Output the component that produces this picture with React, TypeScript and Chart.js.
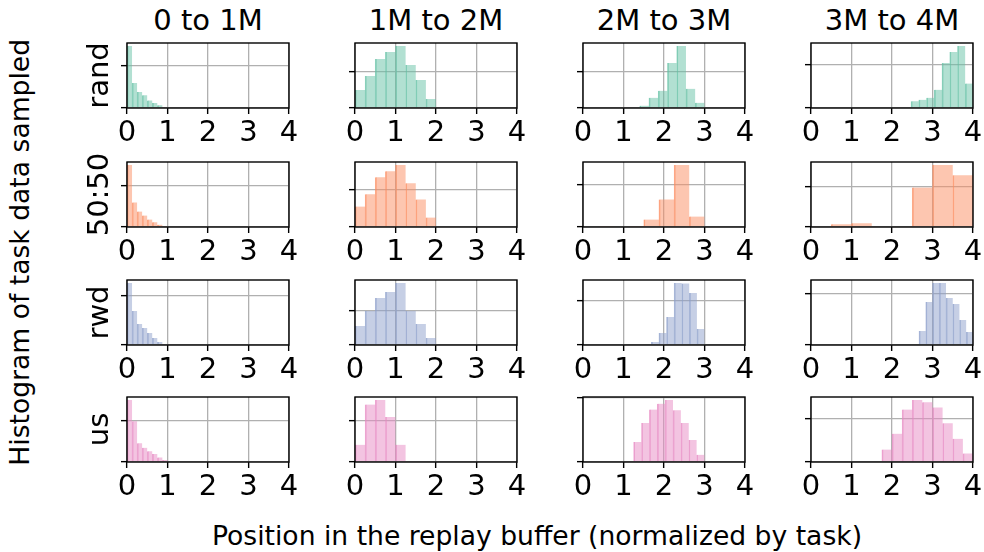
import React, { useEffect, useRef } from 'react';
import { Chart, registerables } from 'chart.js';

Chart.register(...registerables);

const FONT = 'DejaVu Sans';
Chart.defaults.font.family = FONT;

const COLUMN_TITLES = ['0 to 1M', '1M to 2M', '2M to 3M', '3M to 4M'];
const ROW_LABELS = ['rand', '50:50', 'rwd', 'us'];
const ROW_COLORS = ['102,194,165', '252,141,98', '141,160,203', '231,138,195'];
const X_TICKS = [0, 1, 2, 3, 4];
const Y_GRID_TICKS = [0, 1];
const X_LABEL = 'Position in the replay buffer (normalized by task)';
const Y_LABEL = 'Histogram of task data sampled';

// Bin layout per column: left edge of first bin and bin width
const RAND_BIN_START = [0, 0, 1.171, 2.47];
const RAND_BIN_WIDTH = [0.125, 0.25, 0.2286, 0.19125];
const MIX_BIN_START = [0, 0, 0, 0];
const MIX_BIN_WIDTH = [0.125, 0.25, 0.375, 0.5];
const RWD_BIN_START = [0, 0, 1.5, 2.6667];
const RWD_BIN_WIDTH = [0.125, 0.25, 0.1875, 0.16667];
const US_BIN_START = [0, 0, 1.25, 1.75];
const US_BIN_WIDTH = [0.125, 0.25, 0.19444, 0.25];

// Histogram heights (in units of the panel's grid line)
const RAND_HEIGHTS = [
  [1.468, 0.595, 0.381, 0.3, 0.18, 0.12, 0.063, 0.016],
  [0.495, 0.881, 1.349, 1.541, 1.706, 1.183, 0.771, 0.248],
  [0, 0.064, 0.282, 0.473, 1.236, 1.7, 0.527, 0.145],
  [0.152, 0.189, 0.235, 0.417, 1.03, 1.28, 1.417, 0.56],
];
const MIX_HEIGHTS = [
  [1.484, 0.589, 0.371, 0.274, 0.177, 0.113, 0.056, 0.01],
  [0.545, 0.866, 1.321, 1.482, 1.643, 1.161, 0.732, 0.25],
  [0, 0.01, 0, 0.01, 0.175, 0.651, 1.46, 0.246],
  [0.016, 0.066, 0.09, 0, 0, 0.967, 1.516, 1.27],
];
const RWD_HEIGHTS = [
  [1.248, 0.685, 0.423, 0.342, 0.242, 0.141, 0.06, 0.01],
  [0.553, 0.99, 1.369, 1.544, 1.806, 0.99, 0.612, 0.204],
  [0.023, 0.068, 0.271, 0.632, 1.398, 1.39, 1.173, 0.361],
  [0.273, 0.838, 1.208, 1.208, 0.916, 0.799, 0.487, 0.253],
];
const US_HEIGHTS = [
  [1.49, 0.98, 0.45, 0.34, 0.26, 0.19, 0.11, 0.05],
  [0.42, 1.4, 1.51, 1.1, 0.42],
  [0.31, 0.6, 0.81, 0.9, 0.955, 0.8, 0.6, 0.34, 0.11],
  [0.29, 0.66, 1.22, 1.44, 1.39, 1.27, 0.9, 0.54, 0.2],
];

const BIN_STARTS = [RAND_BIN_START, MIX_BIN_START, RWD_BIN_START, US_BIN_START];
const BIN_WIDTHS = [RAND_BIN_WIDTH, MIX_BIN_WIDTH, RWD_BIN_WIDTH, US_BIN_WIDTH];
const HEIGHTS = [RAND_HEIGHTS, MIX_HEIGHTS, RWD_HEIGHTS, US_HEIGHTS];

// Layout
const PANEL_LEFT = [127, 355, 583, 811];
const PANEL_TOP = [43, 162, 280, 397];
const PANEL_W = 162;
const PANEL_H = 65;
const Y_AXIS_W = 14;
const PAD_TOP = 4;
const PAD_RIGHT = 18;
const X_AXIS_H = 46;
const GRID = '#b0b0b0';
const BIG = 29;
const LABEL = 26.6;

const framePlugin = {
  id: 'frame',
  afterDraw(chart: any) {
    const { ctx, chartArea: a } = chart;
    ctx.save();
    ctx.strokeStyle = '#000';
    ctx.lineWidth = 1.4;
    ctx.strokeRect(a.left, a.top, a.right - a.left, a.bottom - a.top);
    ctx.restore();
  },
};

function Panel({ row, col }: { row: number; col: number }) {
  const ref = useRef<HTMLCanvasElement | null>(null);
  const left = PANEL_LEFT[col] - Y_AXIS_W;
  const top = PANEL_TOP[row] - PAD_TOP;
  const w = Y_AXIS_W + PANEL_W + PAD_RIGHT;
  const h = PAD_TOP + PANEL_H + X_AXIS_H;
  useEffect(() => {
    const heights = HEIGHTS[row][col];
    const start = BIN_STARTS[row][col];
    const bw = BIN_WIDTHS[row][col];
    const rgb = ROW_COLORS[row];
    const ymax = Math.max(...heights) * 1.05;
    const chart = new Chart(ref.current as HTMLCanvasElement, {
      type: 'bar',
      data: {
        datasets: [
          {
            data: heights.map((v, i) => ({ x: start + (i + 0.5) * bw, y: v })),
            backgroundColor: `rgba(${rgb},0.5)`,
            borderColor: `rgba(${rgb},0.75)`,
            borderWidth: { left: 1, right: 0, top: 0, bottom: 0 },
            borderSkipped: false,
            barPercentage: 1,
            categoryPercentage: 1,
          } as any,
        ],
      },
      options: {
        animation: false,
        responsive: false,
        maintainAspectRatio: false,
        events: [],
        layout: { padding: { left: 0, right: PAD_RIGHT, top: PAD_TOP, bottom: 0 } },
        plugins: { legend: { display: false }, tooltip: { enabled: false } },
        scales: {
          x: {
            type: 'linear',
            min: 0,
            max: 4,
            offset: false,
            afterBuildTicks: (s: any) => {
              s.ticks = X_TICKS.map((v) => ({ value: v }));
            },
            afterFit: (s: any) => {
              s.height = X_AXIS_H;
            },
            ticks: { font: { family: FONT, size: BIG }, color: '#000', padding: 2, maxRotation: 0, autoSkip: false },
            grid: { offset: false, color: GRID, lineWidth: 1.3, tickColor: '#000', tickWidth: 1.4, tickLength: 6 },
            border: { display: false },
          },
          y: {
            type: 'linear',
            min: 0,
            max: ymax,
            afterBuildTicks: (s: any) => {
              s.ticks = Y_GRID_TICKS.filter((v) => v <= ymax).map((v) => ({ value: v }));
            },
            afterFit: (s: any) => {
              s.width = Y_AXIS_W;
            },
            ticks: { display: false },
            grid: { color: GRID, lineWidth: 1.3, tickColor: '#000', tickWidth: 1.4, tickLength: 6 },
            border: { display: false },
          },
        },
      } as any,
      plugins: [framePlugin],
    });
    return () => chart.destroy();
  }, [row, col]);
  return (
    <canvas
      ref={ref}
      width={w}
      height={h}
      style={{ position: 'absolute', left, top, width: w, height: h }}
    />
  );
}

function HText({ text, cx, baseline, size }: { text: string; cx: number; baseline: number; size: number }) {
  const L = size;
  return (
    <div
      style={{
        position: 'absolute',
        left: cx - 400,
        width: 800,
        top: baseline - (L / 2 + 0.346 * size),
        height: L,
        lineHeight: `${L}px`,
        fontSize: size,
        fontFamily: FONT,
        textAlign: 'center',
        whiteSpace: 'nowrap',
        color: '#000',
      }}
    >
      {text}
    </div>
  );
}

function VText({ text, baselineX, cy, size }: { text: string; baselineX: number; cy: number; size: number }) {
  const L = size;
  const cx = baselineX - 0.346 * size;
  return (
    <div
      style={{
        position: 'absolute',
        left: cx - 400,
        width: 800,
        top: cy - L / 2,
        height: L,
        lineHeight: `${L}px`,
        fontSize: size,
        fontFamily: FONT,
        textAlign: 'center',
        whiteSpace: 'nowrap',
        color: '#000',
        transform: 'rotate(-90deg)',
        transformOrigin: '50% 50%',
      }}
    >
      {text}
    </div>
  );
}

export default function App() {
  const panels = [];
  for (let r = 0; r < 4; r++) {
    for (let c = 0; c < 4; c++) {
      panels.push(<Panel key={`${r}-${c}`} row={r} col={c} />);
    }
  }
  return (
    <div
      style={{
        position: 'fixed',
        left: 0,
        top: 0,
        width: 984,
        height: 552,
        background: '#fff',
        overflow: 'hidden',
      }}
    >
      {panels}
      {COLUMN_TITLES.map((t, c) => (
        <HText key={t} text={t} cx={PANEL_LEFT[c] + PANEL_W / 2} baseline={31} size={BIG} />
      ))}
      {ROW_LABELS.map((t, r) => (
        <VText key={t} text={t} baselineX={108} cy={PANEL_TOP[r] + PANEL_H / 2} size={BIG} />
      ))}
      <VText text={Y_LABEL} baselineX={29} cy={252} size={LABEL} />
      <HText text={X_LABEL} cx={537} baseline={546} size={LABEL} />
    </div>
  );
}
